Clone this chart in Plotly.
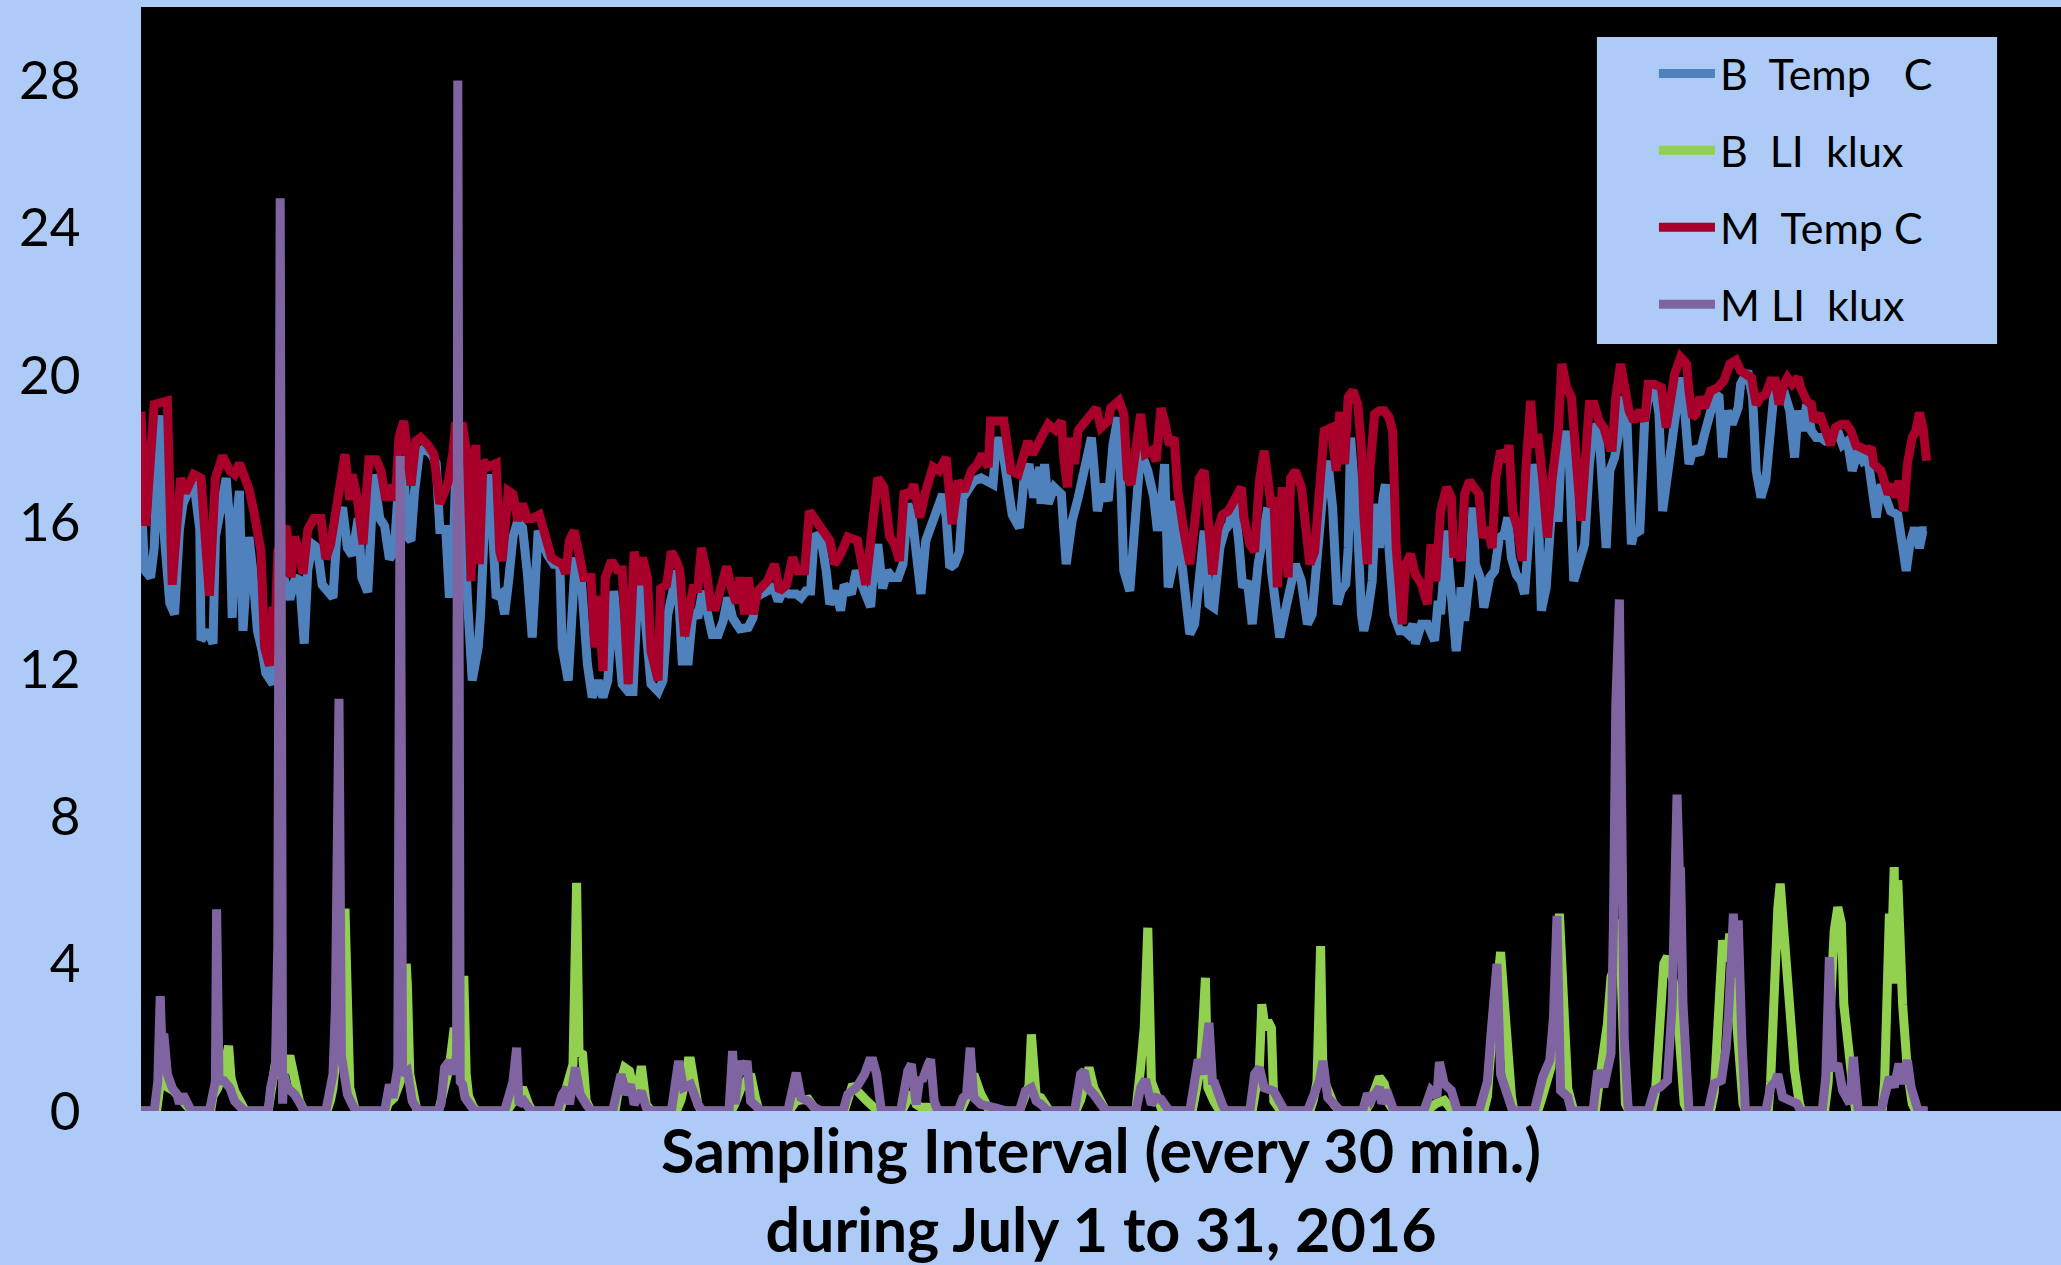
import plotly.graph_objects as go

# ---- data: (sample index, value) ----
B_TEMP = [(0,16.76),(3,14.7),(8,14.5),(11,15.3),(14,17.9),(17,18.9),(18,18.3),(19,15.8),(24,13.8),(28,13.5),(32,15.8),(35,16.5),(39,16.8),(44,17.1),(49,15.8),(50,12.8),(56,13.05),(60,12.7),(62,15.6),(67,16.7),(71,17.2),(74,16.0),(76,13.4),(79,15.8),(82,16.85),(85,13.05),(87,14.1),(90,15.6),(93,14.7),(97,13.05),(101,12.5),(104,11.9),(110,11.6),(112,13.1),(119,14.5),(124,13.9),(128,14.4),(132,14.5),(136,12.7),(139,14.7),(143,15.4),(147,15.3),(151,14.3),(156,14.1),(160,13.95),(164,16.1),(168,16.4),(172,15.3),(176,15.1),(181,16.1),(184,14.5),(189,14.1),(192,15.8),(194,17.3),(199,16.1),(203,15.9),(207,15.0),(211,15.2),(215,17.2),(219,17.4),(222,15.6),(225,15.5),(228,16.85),(232,17.9),(236,18.0),(242,17.85),(246,17.6),(249,15.8),
(254,15.8),(257,13.95),(260,14.9),(262,17.1),(265,17.8),(268,16.9),(272,13.95),(276,11.7),(281,12.6),(283,13.5),(286,15.77),(290,17.3),(293,15.77),(296,13.95),(300,14.05),(303,13.5),(306,14.3),(310,15.6),(314,16.04),(318,15.85),(322,14.6),(326,12.87),(331,15.77),(335,15.4),(339,15.1),(344,14.86),(349,14.86),(351,12.6),(356,11.7),(360,13.95),(362,15.04),(367,14.4),(369,13.5),(372,12.14),(376,11.24),(381,11.7),(385,11.24),(389,11.7),(394,14.13),(397,13.05),(401,11.6),(406,11.4),(410,11.4),(414,14.13),(418,14.3),(421,13.05),(425,11.6),(431,11.4),(435,11.7),(439,13.5),(443,14.05),(447,14.68),(451,12.23),(456,12.23),(460,13.6),(464,13.4),(468,14.13),(472,13.4),(476,12.95),(481,12.95),(485,13.3),(489,13.95),(493,13.4),(499,13.1),
(506,13.14),(510,13.4),(512,13.95),(517,14.05),(522,14.13),(526,14.3),(531,13.86),(535,14.13),(540,14.05),(546,14.05),(550,13.95),(554,14.13),(558,14.13),(561,15.67),(567,15.5),(571,14.68),(574,13.77),(579,14.13),(583,13.6),(586,14.3),(592,14.05),(596,14.68),(600,14.3),(604,14.05),(608,13.7),(611,14.86),(614,15.4),(618,14.2),(622,14.68),(626,14.5),(631,14.5),(635,14.86),(639,16.5),(643,16.04),(647,14.86),(650,14.05),(654,15.5),(658,15.85),(664,16.5),(668,16.76),(671,16.13),(674,14.77),(678,14.86),(682,15.2),(685,16.67),(689,16.85),(694,17.12),(700,17.2),(706,17.12),(710,17.03),(712,17.85),(715,18.3),(719,17.76),(722,16.85),(726,16.2),(732,15.85),(736,17.2),(740,17.58),(744,16.67),(749,17.5),
(750,16.5),(753,17.58),(756,16.5),(761,16.95),(767,16.76),(769,15.77),(771,14.86),(774,15.58),(776,16.04),(781,16.67),(785,17.3),(789,17.85),(792,18.3),(794,17.58),(797,16.3),(801,17.03),(806,16.58),(810,18.1),(814,18.85),(817,16.67),(819,14.68),(824,14.13),(826,15.04),(829,16.85),(833,17.94),(839,17.4),(844,16.67),(847,15.77),(850,16.3),(853,17.58),(856,14.23),(860,14.86),(861,16.58),(865,15.58),(869,14.4),(874,12.96),(878,13.23),(882,14.32),(886,15.77),(890,13.77),(894,13.68),(899,15.3),(903,15.77),(907,15.95),(911,16.58),(915,15.4),(918,14.23),(922,14.4),(926,13.23),(931,14.86),(935,15.58),(939,16.4),(942,14.68),(946,13.4),(949,12.87),(953,13.5),(958,14.13),(962,14.86),(967,14.4),(972,13.23),(976,13.5),(981,15.77),(985,16.85),(989,17.67),(993,16.4),(997,13.77),(1000,14.13),
(1004,14.32),(1006,15.3),(1008,18.3),(1011,17.12),(1014,15.77),(1017,13.5),(1019,13.05),(1022,13.5),(1026,14.4),(1029,16.5),(1032,15.3),(1035,16.67),(1037,17.03),(1040,15.3),(1044,13.5),(1049,13.05),(1053,13.05),(1056,12.96),(1060,13.23),(1062,12.7),(1067,13.23),(1072,13.23),(1078,12.78),(1081,13.86),(1083,13.5),(1086,14.77),(1088,15.77),(1090,14.77),(1096,12.5),(1099,13.4),(1100,14.23),(1103,13.32),(1107,14.5),(1110,16.4),(1112,14.86),(1117,14.4),(1119,13.68),(1124,14.5),(1128,14.68),(1132,15.58),(1136,15.67),(1139,16.13),(1142,15.04),(1146,14.58),(1150,14.4),(1153,14.05),(1157,16.2),(1161,17.58),(1164,16.67),(1167,13.6),(1171,14.23),(1175,16.13),(1181,16.13),(1183,17.58),(1188,18.48),(1190,17.94),(1194,14.4),(1199,15.04),(1203,15.4),(1207,17.58),(1211,18.66),(1215,18.48),(1218,16.67),(1221,15.3),(1224,17.4),(1228,17.76),(1231,18.3),(1233,19.4),(1238,19.03),(1242,15.4),(1244,15.67),(1249,15.77),
(1253,18.75),(1257,19.57),(1262,19.57),(1265,18.94),(1268,16.3),(1271,17.03),(1275,17.94),(1279,19.2),(1283,19.93),(1286,19.2),(1290,17.58),(1294,18.03),(1299,17.85),(1303,18.4),(1307,18.94),(1312,19.48),(1315,19.4),(1318,17.76),(1322,19.03),(1326,18.66),(1331,19.12),(1333,19.75),(1339,20.11),(1343,19.4),(1346,17.4),(1350,16.67),(1354,17.12),(1357,18.48),(1361,19.57),(1365,19.4),(1369,19.57),(1374,19.03),(1378,17.76),(1381,19.03),(1385,18.48),(1388,19.2),(1392,18.48),(1396,18.3),(1400,18.3),(1404,18.2),(1408,18.2),(1414,18.48),(1418,18.1),(1422,18.2),(1426,17.4),(1431,17.94),(1435,17.67),(1439,17.76),(1443,16.67),(1446,16.13),(1450,17.03),(1454,16.58),(1458,16.3),(1464,16.2),(1468,15.4),(1471,14.68),(1474,15.4),(1478,15.85),(1482,15.3),(1485,15.77),(1488,15.77)]

B_LI = [(0,0),(13,0),(15,0.5),(17,1.0),(19,0.9),(22,0.65),(27,0.55),(31,0.4),(35,0.25),(39,0.1),(42,0),
(58,0),(60,0.4),(64,0.63),(69,1.09),(73,1.77),(75,0.9),(78,0.55),(83,0.27),(87,0),
(106,0),(109,0.6),(111,1.09),(115,1.0),(119,1.0),(124,1.5),(128,0.8),(132,0.27),(136,0),
(155,0),(158,0.3),(160,0.63),(164,1.9),(168,3.0),(170,5.5),(172,2.0),(174,0.63),(178,0.1),(179,0),
(204,0),(206,0.2),(211,0.36),(216,0.8),(219,1.5),(221,4.0),(222,3.4),(224,1.0),(227,0.4),(230,0),
(248,0),(252,0.5),(257,1.2),(261,2.26),(264,1.4),(268,2.0),(269,3.67),(271,1.0),(273,0.4),(277,0.1),(280,0),
(305,0),(309,0.18),(313,0.4),(318,0.63),(323,0.18),(326,0),
(349,0),(352,0.3),(355,0.6),(358,1.0),(360,1.27),(363,6.2),(365,1.6),(368,1.54),(371,0.27),(375,0),
(395,0),(398,0.6),(403,1.18),(407,1.09),(412,0.36),(414,0.6),(417,1.22),(421,0.18),(425,0),
(446,0),(450,0.3),(454,0.9),(456,1.36),(458,1.36),(462,0.6),(464,0.18),(467,0),
(492,0),(495,0.2),(500,0.63),(504,0.8),(508,1.0),(512,0.36),(515,0),
(540,0),(544,0.2),(546,0.27),(550,0.3),(556,0.32),(561,0.09),(565,0),
(586,0),(590,0.4),(593,0.72),(597,0.54),(600,0.4),(605,0.27),(611,0.09),(614,0),
(634,0),(638,0.3),(642,0.5),(646,0.18),(650,0.1),(656,0.1),(660,0.09),(664,0),
(683,0),(687,0.3),(691,0.6),(694,1.0),(697,0.6),(700,0.45),(703,0.27),(707,0),
(732,0),(736,0.3),(740,0.7),(742,2.08),(744,0.6),(746,0.4),(750,0.36),(754,0.1),(757,0),
(779,0),(783,0.3),(787,0.8),(790,1.18),(794,0.63),(800,0.27),(804,0),
(829,0),(831,0.5),(833,1.18),(836,2.26),(839,4.98),(842,0.8),(846,0.45),(851,0),
(876,0),(879,0.5),(883,1.2),(887,3.62),(889,0.63),(894,0.27),(899,0),
(926,0),(929,0.5),(932,1.2),(934,2.9),(937,2.2),(939,2.45),(942,2.26),(944,0.27),(950,0),
(974,0),(977,0.3),(980,0.8),(983,4.48),(985,0.9),(989,0.54),(994,0.18),(999,0),
(1020,0),(1024,0.2),(1028,0.5),(1032,0.92),(1036,0.74),(1040,0.2),(1044,0),
(1071,0),(1075,0.1),(1079,0.2),(1086,0.29),(1090,0.1),(1093,0),
(1119,0),(1122,0.4),(1124,1.3),(1127,2.5),(1130,3.8),(1133,4.32),(1136,3.0),(1139,1.38),(1142,0.4),(1144,0),
(1164,0),(1167,0.3),(1171,0.8),(1175,1.2),(1178,2.5),(1182,5.36),(1184,4.0),(1186,2.9),(1189,0.6),(1194,0),
(1212,0),(1214,0.5),(1217,1.1),(1222,2.37),(1225,3.64),(1229,4.0),(1232,5.2),(1235,2.0),(1237,0.2),(1240,0),
(1259,0),(1262,0.5),(1264,1.56),(1267,3.2),(1269,4.0),(1272,4.2),(1275,3.6),(1278,3.37),(1282,2.0),(1286,0.2),(1289,0),
(1308,0),(1311,0.5),(1313,1.56),(1315,3.1),(1318,4.64),(1320,4.2),(1322,4.1),(1324,4.82),(1328,2.9),(1332,1.1),(1335,0.2),(1337,0),
(1356,0),(1358,0.8),(1360,2.9),(1364,5.5),(1366,6.18),(1368,5.4),(1371,4.28),(1375,2.0),(1378,1.1),(1382,0.2),(1384,0),
(1403,0),(1406,0.8),(1408,2.9),(1411,4.9),(1414,5.54),(1417,5.1),(1419,2.9),(1424,1.1),(1428,0.2),(1429,0),
(1451,0),(1453,0.8),(1455,3.0),(1457,5.36),(1459,4.5),(1461,6.63),(1462,3.46),(1464,6.27),(1468,2.9),(1472,1.1),(1476,0.2),(1479,0),(1488,0)]

M_TEMP = [(0,19.0),(4,15.9),(11,19.2),(22,19.3),(26,14.3),(33,17.2),(37,16.8),(44,17.3),(50,17.2),(57,14.0),(62,17.2),(68,17.8),(74,17.4),(78,17.3),(82,17.6),(87,17.2),(90,16.9),(94,16.3),(100,15.2),(103,12.6),(107,12.1),(110,13.7),(111,12.4),(114,15.2),(121,15.9),(125,14.5),(128,15.6),(132,15.2),(135,14.6),(139,15.8),(144,16.1),(150,16.1),(154,15.0),(158,15.4),(164,16.85),(170,17.85),(174,16.6),(176,17.3),(180,16.7),(185,15.4),(188,16.85),(190,17.7),(196,17.7),(200,17.4),(204,16.6),(208,17.0),(212,16.6),(215,18.3),(219,18.75),(222,18.0),(225,17.0),(229,18.2),(233,18.3),(239,18.1),(244,17.85),(249,16.5),
(256,17.1),(260,17.9),(262,18.6),(268,18.6),(272,17.8),(275,14.4),(279,18.1),(282,14.86),(285,17.67),(289,17.5),(296,17.6),(299,15.2),(301,14.95),(306,16.85),(310,16.76),(314,16.04),(318,16.5),(322,16.1),(326,16.1),(332,16.2),(336,15.77),(342,15.04),(346,14.95),(351,14.86),(354,14.6),(357,15.5),(361,15.77),(365,15.04),(369,14.5),(375,14.5),(378,12.6),(381,14.0),(385,11.96),(387,14.5),(392,14.95),(397,14.7),(401,14.7),(406,11.6),(408,12.8),(411,15.2),(415,14.3),(418,15.04),(422,14.5),(425,12.5),(431,11.7),(433,14.2),(438,14.3),(442,15.2),(446,14.95),(449,14.7),(453,12.9),(457,13.5),(460,14.2),(464,14.2),(467,15.3),(471,14.7),(475,13.7),(479,13.7),(483,14.2),(488,14.8),(492,14.2),(496,13.8),(499,14.5),
(503,13.5),(506,14.5),(510,13.5),(514,14.13),(519,14.3),(522,14.4),(528,14.86),(532,14.13),(538,14.3),(543,15.04),(547,14.68),(553,14.68),(557,16.3),(563,16.04),(568,15.77),(574,15.5),(578,14.86),(583,15.13),(589,15.6),(597,15.5),(604,14.3),(608,15.4),(614,17.2),(619,16.95),(624,15.6),(628,15.4),(632,14.95),(636,16.85),(640,16.67),(644,17.03),(649,16.13),(654,16.85),(660,17.5),(665,17.4),(671,17.76),(676,15.95),(681,17.12),(686,16.85),(692,17.4),(697,17.58),(701,17.85),(706,17.5),(708,18.75),(719,18.75),(725,17.4),(731,17.3),(735,17.67),(739,18.2),(743,17.85),(747,18.1),
(750,18.2),(756,18.66),(762,18.5),(767,18.75),(769,17.76),(772,16.95),(775,18.3),(778,17.58),(781,18.5),(787,18.75),(792,18.94),(796,19.1),(800,18.57),(806,18.75),(808,19.1),(815,19.3),(819,18.94),(822,17.2),(825,17.03),(829,18.2),(833,18.94),(837,17.85),(842,17.94),(846,17.67),(850,19.1),(853,18.75),(857,18.1),(861,18.3),(864,16.85),(869,15.77),(874,14.86),(878,15.95),(882,17.2),(886,17.4),(890,15.95),(893,14.58),(897,15.77),(901,16.2),(906,16.3),(910,16.58),(914,16.85),(917,16.95),(919,16.13),(924,15.4),(928,15.2),(932,17.12),(936,17.94),(939,17.03),(942,16.4),(944,16.67),(947,14.23),(951,16.95),(956,14.5),(958,17.2),(962,17.4),(967,16.95),(971,15.58),(974,14.86),(978,15.2),(982,17.2),(986,18.48),(992,18.57),(996,17.4),(999,19.0),
(1003,17.58),(1006,19.4),(1010,19.57),(1014,19.2),(1017,18.03),(1019,16.2),(1022,14.86),(1024,17.4),(1026,18.66),(1028,18.94),(1032,19.03),(1036,19.03),(1040,18.85),(1043,18.48),(1046,15.3),(1050,13.95),(1051,13.23),(1054,14.86),(1058,15.13),(1062,14.58),(1067,14.32),(1072,13.77),(1075,15.4),(1079,14.4),(1083,16.3),(1088,16.95),(1092,16.67),(1094,15.04),(1097,15.5),(1100,14.95),(1103,16.76),(1107,17.12),(1111,16.95),(1115,16.76),(1118,15.58),(1122,15.85),(1126,15.3),(1129,17.2),(1133,17.94),(1138,17.67),(1140,18.1),(1143,16.3),(1147,15.85),(1151,14.95),(1154,17.4),(1158,19.3),(1161,18.03),(1164,18.4),(1168,17.2),(1172,15.58),(1176,17.2),(1181,18.48),(1184,20.3),(1188,19.66),(1192,19.4),(1196,17.76),(1200,16.04),(1203,17.4),(1207,19.2),(1211,19.2),(1215,18.75),(1219,18.57),(1224,18.03),(1226,18.03),(1229,19.4),(1233,20.3),(1236,19.75),(1240,19.03),(1244,18.75),(1249,19.03),
(1253,18.75),(1256,19.75),(1261,19.75),(1267,19.66),(1271,18.57),(1274,19.4),(1278,20.02),(1283,20.48),(1288,20.3),(1290,19.57),(1293,18.85),(1296,18.94),(1299,19.4),(1303,19.12),(1308,19.57),(1314,19.66),(1319,19.84),(1324,20.3),(1329,20.4),(1333,20.11),(1338,20.02),(1342,19.93),(1346,19.2),(1350,19.4),(1354,19.48),(1358,19.84),(1362,19.84),(1365,19.2),(1369,19.75),(1372,19.93),(1376,19.75),(1381,19.93),(1383,19.66),(1388,19.3),(1392,19.2),(1394,18.75),(1399,18.94),(1403,18.48),(1408,18.1),(1412,18.57),(1417,18.66),(1421,18.66),(1425,18.48),(1429,18.1),(1433,18.03),(1439,17.94),(1442,18.03),(1444,17.58),(1450,17.4),(1456,16.76),(1460,17.03),(1462,16.67),(1465,17.12),(1469,16.3),(1472,17.58),(1476,18.3),(1479,18.48),(1482,18.98),(1485,18.57),(1486,18.2),(1488,17.67)]

M_LI = [(0,0),(11,0),(14,0.8),(16,3.12),(18,1.18),(19,2.1),(22,1.0),(26,0.63),(30,0.45),(32,0.2),(35,0.45),(39,0.1),(42,0),
(57,0),(60,0.63),(62,0.8),(63,5.48),(65,0.82),(69,0.82),(74,0.63),(78,0.27),(83,0.09),(86,0),
(106,0),(108,0.63),(112,1.2),(114,4.5),(116,24.8),(118,0.2),(119,1.0),(122,0.63),(128,0.45),(133,0.18),(136,0),
(154,0),(157,0.63),(160,1.0),(162,2.8),(165,11.2),(167,1.5),(170,0.7),(172,0.45),(176,0.18),(179,0),
(203,0),(207,0.72),(210,0.36),(212,1.0),(214,1.2),(216,17.8),(218,1.0),(222,1.09),(226,0.27),(231,0),
(247,0),(250,0.18),(253,1.18),(257,1.36),(260,1.0),(263,1.5),(264,28.0),(266,0.8),(268,0.72),(270,0.36),(275,0.09),(278,0),
(303,0),(307,0.45),(310,0.8),(313,1.72),(315,0.18),(319,0.27),(323,0.1),(325,0),
(347,0),(351,0.45),(355,0.63),(357,0.18),(362,1.18),(366,0.45),(371,0.18),(375,0),
(393,0),(397,0.72),(400,1.0),(404,0.45),(408,0.72),(411,0.18),(417,0.54),(421,0.09),(425,0),
(442,0),(444,0.5),(448,1.36),(452,0.63),(458,0.72),(464,0.18),(468,0),
(490,0),(493,1.63),(495,0.18),(499,1.36),(502,1.0),(505,1.36),(508,0.27),(514,0.09),(517,0),
(539,0),(542,0.45),(546,1.04),(550,0.36),(556,0.27),(561,0.1),(567,0),
(585,0),(589,0.45),(596,0.63),(603,1.0),(607,1.36),(610,1.36),(613,1.0),(615,0.09),(617,0),
(633,0),(639,1.09),(642,1.27),(646,0.18),(649,0.9),(651,0.82),(656,1.27),(658,1.4),(661,0.27),(664,0),
(681,0),(685,0.36),(688,0.45),(691,1.72),(694,0.36),(700,0.18),(711,0.09),(722,0),
(732,0),(737,0.54),(742,0.63),(746,0.27),(750,0.18),(756,0),
(778,0),(783,1.0),(786,1.09),(789,0.63),(794,0.45),(801,0.09),(804,0),
(829,0),(833,0.63),(837,0.86),(842,0.18),(846,0.36),(850,0.32),(855,0.09),(858,0),
(874,0),(876,0.45),(881,1.4),(885,1.0),(890,2.4),(893,0.72),(894,0.82),(901,0.18),(904,0),
(924,0),(928,1.0),(932,1.18),(936,0.63),(944,0.54),(947,0.36),(953,0),
(972,0),(978,0.45),(982,0.82),(985,1.36),(989,0.36),(997,0.09),(1000,0),
(1018,0),(1022,0.47),(1025,0.29),(1032,0.65),(1034,0.2),(1038,0.56),(1042,0.2),(1044,0),
(1069,0),(1075,0.56),(1080,0.4),(1082,1.33),(1086,0.74),(1092,0.56),(1096,0.1),(1097,0),
(1115,0),(1119,0.47),(1122,0.8),(1125,2.1),(1130,4.0),(1133,1.0),(1137,0.56),(1142,0.2),(1143,0),
(1161,0),(1165,0.47),(1168,0.92),(1174,1.38),(1177,2.5),(1180,5.3),(1183,0.56),(1189,0.38),(1192,0),
(1210,0),(1214,1.1),(1219,0.65),(1225,1.56),(1227,5.0),(1229,11.05),(1232,13.9),(1236,2.0),(1239,0.2),(1240,0),
(1256,0),(1261,0.56),(1266,0.65),(1272,0.83),(1276,2.9),(1280,8.6),(1282,6.5),(1283,6.5),(1285,2.9),(1288,0.2),(1290,0),
(1306,0),(1311,0.74),(1317,0.83),(1321,1.74),(1323,2.64),(1327,5.36),(1329,3.64),(1331,5.18),(1334,1.98),(1336,0.2),(1337,0),
(1354,0),(1358,0.65),(1362,0.8),(1364,1.0),(1368,0.38),(1374,0.29),(1380,0.2),(1383,0),
(1401,0),(1404,0.92),(1407,4.18),(1410,1.1),(1414,1.29),(1418,0.56),(1424,0.2),(1427,1.47),(1429,0.1),(1431,0),
(1450,0),(1457,0.92),(1461,0.65),(1465,1.29),(1468,0.74),(1472,1.38),(1475,0.65),(1478,0.2),(1481,0),(1489,0)]

SERIES_NAMES = ["B\u00a0\u00a0Temp\u00a0\u00a0\u00a0C", "B\u00a0\u00a0LI\u00a0\u00a0klux",
                "M\u00a0\u00a0Temp\u00a0C", "M\u00a0LI\u00a0\u00a0klux"]
Y_TICKS = [0, 4, 8, 12, 16, 20, 24, 28]
X_TITLE = "Sampling Interval (every 30 min.)<br>during July 1 to 31, 2016"

COLORS = ["#4F81BD", "#92D050", "#A8002B", "#8064A2"]
BG = "#ADCBF6"
FONT = "Lato"

fig = go.Figure()
for i, (data, name) in enumerate(zip([B_TEMP, B_LI, M_TEMP, M_LI], SERIES_NAMES)):
    fig.add_trace(go.Scatter(
        x=[p[0] for p in data], y=[p[1] for p in data], mode="lines", name=name,
        line=dict(color=COLORS[i], width=9), legendgroup=f"g{i}"))

# legend box (light-blue panel behind the legend entries)
fig.add_shape(type="rect", xref="paper", yref="paper",
              x0=0.7583, x1=0.9667, y0=0.6947, y1=0.9728,
              fillcolor=BG, line=dict(width=0), layer="above")

fig.update_layout(
    width=2061, height=1265,
    paper_bgcolor=BG, plot_bgcolor="black",
    margin=dict(l=141, r=0, t=7, b=154),
    font=dict(family=FONT, color="black"),
    showlegend=True,
    legend=dict(x=0.788, y=0.971, xanchor="left", yanchor="top",
                bgcolor="rgba(0,0,0,0)", borderwidth=0, font=dict(size=43, family=FONT),
                itemwidth=56, tracegroupgap=18, traceorder="grouped"),
    xaxis=dict(range=[0, 1600], showticklabels=False, showgrid=False, zeroline=False,
               showline=False, ticks="",
               title=dict(text=X_TITLE, font=dict(size=61, family=FONT, weight="bold"),
                          standoff=27)),
    yaxis=dict(range=[0, 30], tickvals=Y_TICKS, showgrid=False, zeroline=False,
               showline=False, ticks="outside", ticklen=49, tickcolor=BG,
               tickfont=dict(size=53, family=FONT)),
)

fig.write_html("out.html", config={"displayModeBar": False},
               post_script="document.body.style.margin='0';")
